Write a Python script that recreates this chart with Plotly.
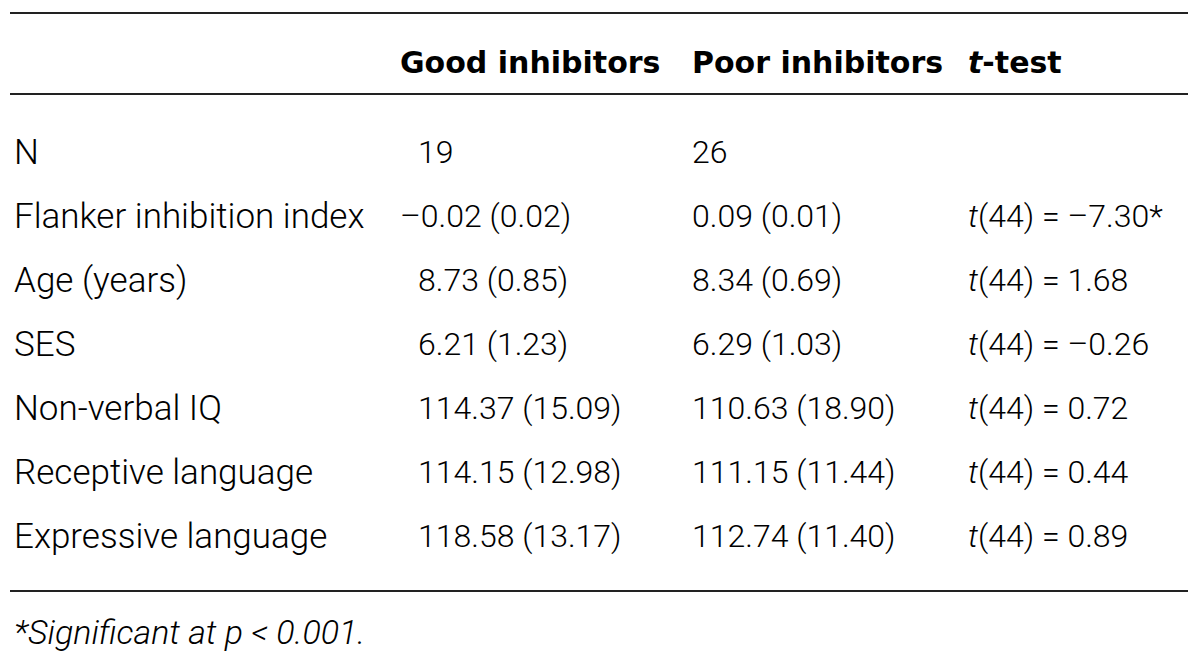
import plotly.graph_objects as go

# table content
row_labels = ["N", "Flanker inhibition index", "Age (years)", "SES",
              "Non-verbal IQ", "Receptive language", "Expressive language"]
good_mean = [19, -0.02, 8.73, 6.21, 114.37, 114.15, 118.58]
good_sd = [None, 0.02, 0.85, 1.23, 15.09, 12.98, 13.17]
poor_mean = [26, 0.09, 8.34, 6.29, 110.63, 111.15, 112.74]
poor_sd = [None, 0.01, 0.69, 1.03, 18.90, 11.44, 11.40]
t_values = [None, -7.30, 1.68, -0.26, 0.72, 0.44, 0.89]
t_signif = [False, True, False, False, False, False, False]
headers = ["", "Good inhibitors", "Poor inhibitors", "<i>t</i>-test"]
footnote = "<i>*Significant at p &lt; 0.001.</i>"


def num(v, pad=False):
    s = str(v) if isinstance(v, int) else "%.2f" % v
    s = s.replace("-", "\u2013")
    if pad and not s.startswith("\u2013"):
        s = "\u2007" + s
    return s


def cell(m, sd, pad=False):
    if sd is None:
        return num(m, pad)
    return num(m, pad) + " (" + num(sd) + ")"


good = [cell(m, s, True) for m, s in zip(good_mean, good_sd)]
poor = [cell(m, s) for m, s in zip(poor_mean, poor_sd)]
ttest = ["" if t is None else "<i>t</i>(44) = " + num(t) + ("*" if sig else "")
         for t, sig in zip(t_values, t_signif)]

col_x = [12, 398, 690, 966]
row_y = [152 + 64 * i for i in range(len(row_labels))]
BODY = "Roboto"
HEAD = "DejaVu Sans"

fig = go.Figure()
fig.add_trace(go.Scatter(x=[8, 1208], y=[8, 673], mode="markers",
                         marker=dict(opacity=0), hoverinfo="skip", showlegend=False))

anns = []
for x, h in zip(col_x, headers):
    if h:
        anns.append(dict(x=x, y=62, text=h, xanchor="left", yanchor="middle",
                         showarrow=False,
                         font=dict(family=HEAD, size=30, color="black", weight=700)))
for i, y in enumerate(row_y):
    cells = [row_labels[i], good[i], poor[i], ttest[i]]
    for j, (x, txt) in enumerate(zip(col_x, cells)):
        if txt:
            anns.append(dict(x=x, y=y, text=txt, xanchor="left", yanchor="middle",
                             showarrow=False,
                             font=dict(family=BODY, size=35 if j == 0 else 32,
                                       color="black", weight=300)))
anns.append(dict(x=12, y=632, text=footnote, xanchor="left", yanchor="middle",
                 showarrow=False,
                 font=dict(family=BODY, size=34, color="black", weight=300)))

lines = []
for y in [13, 94, 591]:
    lines.append(dict(type="line", x0=10, x1=1188, y0=y, y1=y,
                      line=dict(color="#222222", width=2)))

# the page puts the plot 8px in from the corner, so the ranges start at 8
fig.update_layout(
    width=1200, height=665,
    margin=dict(l=0, r=0, t=0, b=0),
    paper_bgcolor="white", plot_bgcolor="white",
    xaxis=dict(range=[8, 1208], visible=False, fixedrange=True),
    yaxis=dict(range=[673, 8], visible=False, fixedrange=True),
    annotations=anns, shapes=lines,
)
fig.write_html("out.html")
